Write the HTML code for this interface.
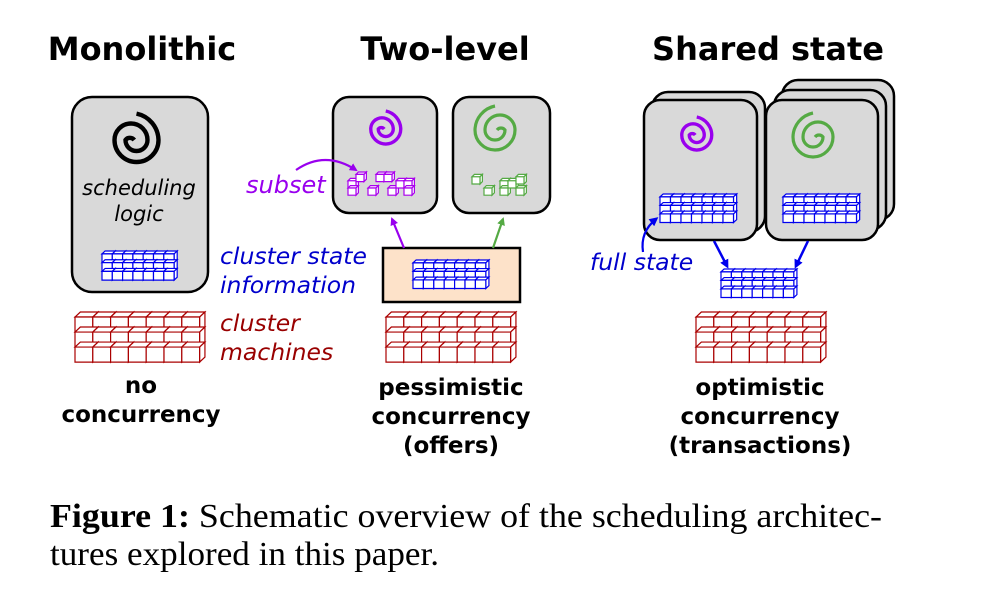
<!DOCTYPE html>
<html><head><meta charset="utf-8"><style>
html,body{margin:0;padding:0;background:#fff;}
svg{display:block;}
.t{font-family:"DejaVu Sans","Liberation Sans",sans-serif;font-weight:bold;}
.i{font-family:"DejaVu Sans","Liberation Sans",sans-serif;font-style:oblique;font-size:23.5px;}
.b{font-family:"DejaVu Sans","Liberation Sans",sans-serif;font-weight:bold;font-size:23px;text-anchor:middle;}
.cap{font-family:"Liberation Serif",serif;font-size:34px;}
</style></head><body>
<svg width="989" height="609" viewBox="0 0 989 609" xmlns="http://www.w3.org/2000/svg">
<defs>
<g id="cube" fill="#fff" stroke="currentColor" stroke-width="1.2">
<polygon points="0,3 3,0 13,0 10,3" vector-effect="non-scaling-stroke"/>
<polygon points="10,3 13,0 13,9 10,12" vector-effect="non-scaling-stroke"/>
<rect x="0" y="3" width="10" height="9" vector-effect="non-scaling-stroke"/>
</g>
<g id="row"><use href="#cube" x="0"/><use href="#cube" x="10"/><use href="#cube" x="20"/><use href="#cube" x="30"/><use href="#cube" x="40"/><use href="#cube" x="50"/><use href="#cube" x="60"/></g>
<g id="grid"><use href="#row" y="0"/><use href="#row" y="9"/><use href="#row" y="18"/></g>
<marker id="ap" markerWidth="8" markerHeight="8" refX="6" refY="4" orient="auto" markerUnits="userSpaceOnUse"><path d="M0,0 L8,4 L0,8 z" fill="#9900ee"/></marker>
<marker id="ag" markerWidth="8" markerHeight="8" refX="6" refY="4" orient="auto" markerUnits="userSpaceOnUse"><path d="M0,0 L8,4 L0,8 z" fill="#55aa44"/></marker>
<marker id="ab" markerWidth="9" markerHeight="9" refX="6" refY="4.5" orient="auto" markerUnits="userSpaceOnUse"><path d="M0,0 L9,4.5 L0,9 z" fill="#0000ee"/></marker>
<path id="spiral" d="M3,0 A5,5 0 0 0 -5,0 A10,10 0 0 0 15,0 A15,15 0 0 0 -15,0 A20,20 0 0 0 25,0 A25,25 0 0 0 5,-24" fill="none"/>
</defs>

<text class="t" x="142" y="60" font-size="32" text-anchor="middle">Monolithic</text>
<text class="t" x="445" y="60" font-size="32" text-anchor="middle">Two-level</text>
<text class="t" x="768" y="60" font-size="32" text-anchor="middle">Shared state</text>

<!-- Monolithic -->
<rect x="72" y="97" width="136" height="195" rx="20" fill="#d9d9d9" stroke="#000" stroke-width="2.5"/>
<use href="#spiral" transform="translate(131,140) scale(1.1)" stroke="#000" stroke-width="4"/>
<text class="i" x="139" y="195" text-anchor="middle" style="font-size:21px">scheduling</text>
<text class="i" x="139" y="221" text-anchor="middle" style="font-size:21px">logic</text>
<use href="#grid" transform="translate(102,251) scale(1.03,0.97)" color="#0000ee"/>
<use href="#grid" transform="translate(75,312) scale(1.78,1.67)" color="#aa0000"/>
<text class="i" x="220" y="264" fill="#0000cc">cluster state</text>
<text class="i" x="220" y="293" fill="#0000cc">information</text>
<text class="i" x="220" y="331" fill="#990000">cluster</text>
<text class="i" x="220" y="360" fill="#990000">machines</text>
<text class="b" x="141" y="393">no</text>
<text class="b" x="141" y="422">concurrency</text>

<!-- Two-level -->
<rect x="333" y="97" width="104" height="116" rx="16" fill="#d9d9d9" stroke="#000" stroke-width="2.5"/>
<rect x="453" y="97" width="97" height="116" rx="16" fill="#d9d9d9" stroke="#000" stroke-width="2.5"/>
<use href="#spiral" transform="translate(382,129) scale(0.75)" stroke="#9900ee" stroke-width="4.5"/>
<use href="#spiral" transform="translate(500,130) scale(1.0,-1.0) rotate(180)" stroke="#55aa44" stroke-width="3.2"/>
<g color="#aa00ee" transform="translate(348,172) scale(0.8)">
<use href="#cube" x="0" y="8"/><use href="#cube" x="0" y="17"/><use href="#cube" x="10" y="0"/><use href="#cube" x="25" y="17"/><use href="#cube" x="35" y="0"/><use href="#cube" x="45" y="0"/><use href="#cube" x="50" y="17"/><use href="#cube" x="60" y="8"/><use href="#cube" x="70" y="8"/><use href="#cube" x="70" y="17"/>
</g>
<g color="#55aa44" transform="translate(472,172) scale(0.8)">
<use href="#cube" x="0" y="3"/><use href="#cube" x="15" y="17"/><use href="#cube" x="35" y="8"/><use href="#cube" x="35" y="17"/><use href="#cube" x="45" y="8"/><use href="#cube" x="55" y="3"/><use href="#cube" x="55" y="17"/>
</g>
<path d="M296,170 Q325,150 356,170" fill="none" stroke="#9900ee" stroke-width="2.2" marker-end="url(#ap)"/>
<text class="i" x="246" y="193" fill="#9900ee" style="font-size:24px">subset</text>
<rect x="383" y="248" width="137" height="54" fill="#fde2c9" stroke="#000" stroke-width="2.5"/>
<use href="#grid" transform="translate(413,260) scale(1.04,0.95)" color="#0000ee"/>
<line x1="404" y1="248" x2="392" y2="219" stroke="#9900ee" stroke-width="2.2" marker-end="url(#ap)"/>
<line x1="493" y1="248" x2="503" y2="219" stroke="#55aa44" stroke-width="2.2" marker-end="url(#ag)"/>
<use href="#grid" transform="translate(386,312) scale(1.78,1.67)" color="#aa0000"/>
<text class="b" x="451" y="395">pessimistic</text>
<text class="b" x="451" y="424">concurrency</text>
<text class="b" x="451" y="453">(offers)</text>

<!-- Shared state -->
<rect x="652" y="92" width="113" height="140" rx="16" fill="#d9d9d9" stroke="#000" stroke-width="2.5"/>
<rect x="644" y="100" width="113" height="140" rx="16" fill="#d9d9d9" stroke="#000" stroke-width="2.5"/>
<rect x="782" y="80" width="112" height="140" rx="16" fill="#d9d9d9" stroke="#000" stroke-width="2.5"/>
<rect x="774" y="90" width="112" height="140" rx="16" fill="#d9d9d9" stroke="#000" stroke-width="2.5"/>
<rect x="766" y="100" width="112" height="140" rx="16" fill="#d9d9d9" stroke="#000" stroke-width="2.5"/>
<use href="#spiral" transform="translate(693,135) scale(0.75)" stroke="#9900ee" stroke-width="4.5"/>
<use href="#spiral" transform="translate(818,137) scale(1.0,-1.0) rotate(180)" stroke="#55aa44" stroke-width="3.2"/>
<use href="#grid" transform="translate(660,194) scale(1.05,0.95)" color="#0000ee"/>
<use href="#grid" transform="translate(783,194) scale(1.05,0.95)" color="#0000ee"/>
<path d="M643,252 Q640,232 656,219" fill="none" stroke="#0000ee" stroke-width="2.2" marker-end="url(#ab)"/>
<text class="i" x="590" y="270" fill="#0000cc">full state</text>
<line x1="714" y1="241" x2="727" y2="266" stroke="#0000ee" stroke-width="2.5" marker-end="url(#ab)"/>
<line x1="808" y1="241" x2="796" y2="266" stroke="#0000ee" stroke-width="2.5" marker-end="url(#ab)"/>
<use href="#grid" transform="translate(721,269) scale(1.04,0.95)" color="#0000ee"/>
<use href="#grid" transform="translate(696,312) scale(1.78,1.67)" color="#aa0000"/>
<text class="b" x="760" y="395">optimistic</text>
<text class="b" x="760" y="424">concurrency</text>
<text class="b" x="760" y="453">(transactions)</text>

<text class="cap" x="50" y="527" textLength="832" lengthAdjust="spacingAndGlyphs"><tspan font-weight="bold">Figure 1:</tspan> Schematic overview of the scheduling architec-</text>
<text class="cap" x="50" y="565" textLength="389" lengthAdjust="spacingAndGlyphs">tures explored in this paper.</text>
</svg>
</body></html>
